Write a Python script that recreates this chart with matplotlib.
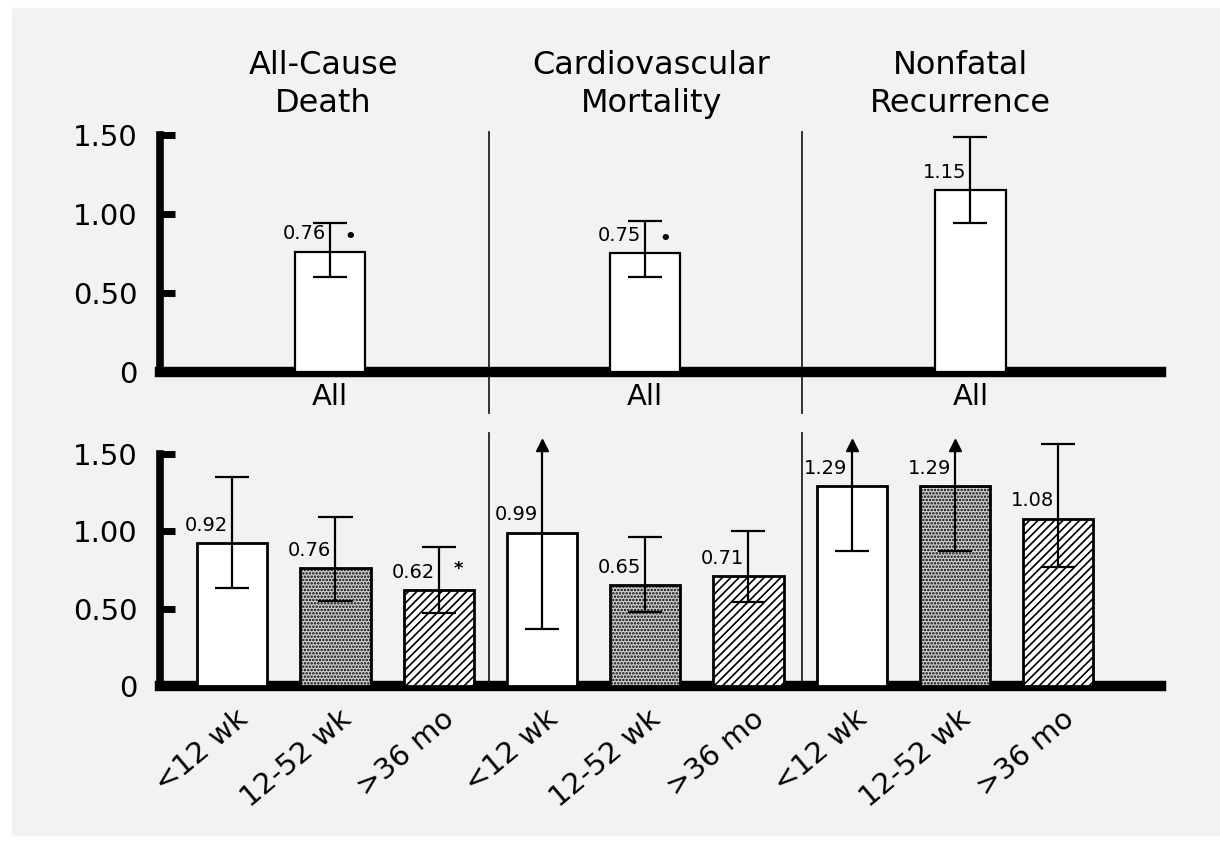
import numpy as np
import matplotlib.pyplot as plt
from matplotlib.patches import Rectangle

plt.rcParams['font.family'] = ['DejaVu Sans']
plt.rcParams['hatch.linewidth'] = 1.2

# ---- data ----
outcomes = ['All-Cause\nDeath', 'Cardiovascular\nMortality', 'Nonfatal\nRecurrence']
periods = ['<12 wk', '12-52 wk', '>36 mo']

# top panel, all patients
all_rr = [0.76, 0.75, 1.15]
all_lo = [0.60, 0.60, 0.94]
all_hi = [0.94, 0.955, 1.49]
all_mark = ['•', '•', '']

# bottom panel, by timing (3 outcomes x 3 periods)
sub_rr = [0.92, 0.76, 0.62, 0.99, 0.65, 0.71, 1.29, 1.29, 1.08]
sub_lo = [0.63, 0.55, 0.47, 0.37, 0.48, 0.545, 0.87, 0.87, 0.77]
sub_hi = [1.35, 1.09, 0.90, 1.59, 0.96, 1.00, 1.59, 1.59, 1.56]
sub_arrow = [False, False, False, True, False, False, True, True, False]
sub_mark = ['', '', '*', '', '', '', '', '', '']

yticks = [0, 0.5, 1.0, 1.5]
ytick_labels = ['0', '0.50', '1.00', '1.50']

# ---- layout ----
x_sub = np.arange(9)
x_all = [0.95, 4.0, 7.15]
x_title = [0.88, 4.06, 7.05]
x_div = [2.49, 5.52]
bar_w = 0.68
cap = 0.165
face = ['white', '#cfcfcf', 'white']
hatch = [None, '.....', '////']


def style_axis(ax, ylim):
    ax.set_facecolor('none')
    ax.set_xlim(-0.7, 9.3)
    ax.set_ylim(*ylim)
    for s in ['top', 'right']:
        ax.spines[s].set_visible(False)
    ax.spines['left'].set_bounds(0, 1.5)
    ax.spines['left'].set_linewidth(5.5)
    ax.spines['bottom'].set_position(('data', 0))
    ax.spines['bottom'].set_bounds(-0.7, 9.0)
    ax.spines['bottom'].set_linewidth(7.5)
    ax.set_yticks(yticks, ytick_labels)
    ax.tick_params(axis='y', direction='in', length=11, width=5, pad=16, labelsize=21)
    ax.tick_params(axis='x', length=0, labelbottom=False)


def draw_ci(ax, x, lo, hi, arrow):
    top = hi - 0.04 if arrow else hi
    ax.vlines(x, lo, top, color='k', lw=1.6, zorder=4)
    ax.hlines(lo, x - cap, x + cap, color='k', lw=1.6, zorder=4)
    if arrow:
        ax.plot(x, hi - 0.035, marker='^', ms=9, color='k', zorder=5)
    else:
        ax.hlines(hi, x - cap, x + cap, color='k', lw=1.6, zorder=4)


def label_bar(ax, x, rr, mark, dy):
    ax.text(x - 0.04, rr + 0.08, f'{rr:.2f}', ha='right', va='baseline', fontsize=14, zorder=6)
    if mark:
        ax.text(x + 0.19, rr + dy, mark, ha='center', va='baseline', fontsize=13,
                fontweight='bold', zorder=6)


fig = plt.figure(figsize=(12.2, 8.43), dpi=100, facecolor='white')
fig.patches.append(Rectangle((12 / 1220, 8 / 843), 1, 827 / 843, color='#f1f2f2',
                             transform=fig.transFigure, zorder=-10))

ax_top = fig.add_axes([0.1311, 0.5025, 0.8463, 0.3655])
ax_bot = fig.add_axes([0.1311, 0.177, 0.8463, 0.3217])
style_axis(ax_top, (-0.3, 1.65))
style_axis(ax_bot, (-0.05, 1.7))

# top panel
ax_top.bar(x_all, all_rr, width=bar_w, color='white', edgecolor='k', lw=1.6, zorder=3)
for i in range(3):
    draw_ci(ax_top, x_all[i], all_lo[i], all_hi[i], False)
    label_bar(ax_top, x_all[i], all_rr[i], all_mark[i], 0.06)
    ax_top.text(x_all[i], -0.16, 'All', ha='center', va='center', fontsize=21)
    ax_top.text(x_title[i], 1.82, outcomes[i], ha='center', va='center', fontsize=23,
                linespacing=1.3)
for xd in x_div:
    ax_top.plot([xd, xd], [-0.26, 1.52], color='#222222', lw=1.3, clip_on=False, zorder=2)

# bottom panel
for i in range(9):
    p = i % 3
    ax_bot.bar(x_sub[i], sub_rr[i], width=bar_w, color=face[p], hatch=hatch[p],
               edgecolor='k', lw=2.0, zorder=3)
    draw_ci(ax_bot, x_sub[i], sub_lo[i], sub_hi[i], sub_arrow[i])
    label_bar(ax_bot, x_sub[i], sub_rr[i], sub_mark[i], 0.1)
    ax_bot.text(x_sub[i] + 0.03, -0.12, periods[p], rotation=40, rotation_mode='anchor',
                ha='right', va='top', fontsize=21)
for xd in x_div:
    ax_bot.plot([xd, xd], [0, 1.63], color='#222222', lw=1.3, clip_on=False, zorder=2)

fig.savefig('out.png', dpi=100, facecolor=fig.get_facecolor())
